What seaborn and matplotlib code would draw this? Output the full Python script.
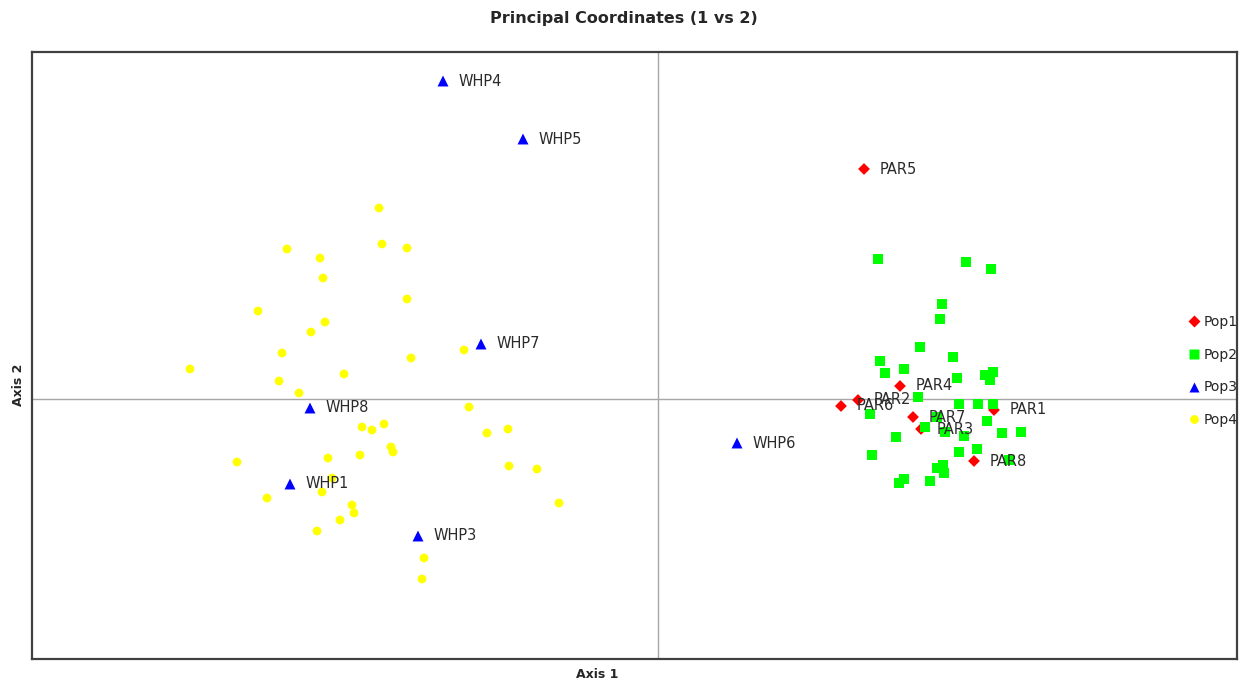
#!/usr/bin/env python3

import seaborn as sns
import pandas as pd
import matplotlib.pyplot as plt

# Pop1 (labelled PAR points)
pop1_names = ["PAR1", "PAR2", "PAR3", "PAR4", "PAR5", "PAR6", "PAR7", "PAR8"]
pop1_x = [3.36, 2.00, 2.63, 2.42, 2.06, 1.83, 2.55, 3.16]
pop1_y = [-0.11, -0.01, -0.30, 0.13, 2.30, -0.07, -0.18, -0.62]

# Pop2
pop2_x = [2.20, 3.08, 3.33, 2.84, 2.82, 2.62, 2.95, 2.22, 2.27, 2.46,
          2.99, 3.27, 3.35, 3.32, 2.60, 3.01, 3.20, 3.35, 2.12, 3.29,
          2.79, 2.67, 2.87, 3.06, 3.44, 3.63, 2.38, 2.14, 3.01, 3.19,
          3.51, 2.79, 2.85, 2.86, 2.46, 2.41, 2.72]
pop2_y = [1.40, 1.37, 1.30, 0.95, 0.80, 0.52, 0.42, 0.38, 0.26, 0.30,
          0.21, 0.24, 0.27, 0.19, 0.02, -0.05, -0.05, -0.05, -0.15, -0.22,
          -0.18, -0.28, -0.33, -0.37, -0.34, -0.33, -0.38, -0.56, -0.53, -0.50,
          -0.61, -0.69, -0.66, -0.74, -0.80, -0.84, -0.82]

# Pop3 (labelled WHP points)
pop3_names = ["WHP1", "WHP3", "WHP4", "WHP5", "WHP6", "WHP7", "WHP8"]
pop3_x = [-3.68, -2.40, -2.15, -1.35, 0.79, -1.77, -3.48]
pop3_y = [-0.85, -1.37, 3.18, 2.60, -0.44, 0.55, -0.09]

# Pop4
pop4_x = [-4.68, -4.21, -4.00, -3.91, -3.71, -3.79, -3.76, -3.59, -3.47, -3.38,
          -3.35, -3.33, -3.41, -3.30, -3.26, -3.36, -3.18, -3.14, -3.06, -3.04,
          -2.98, -2.96, -2.86, -2.79, -2.76, -2.74, -2.67, -2.65, -2.51, -2.51,
          -2.47, -2.36, -2.34, -1.94, -1.89, -1.71, -1.50, -1.49, -1.21, -0.99]
pop4_y = [0.30, -0.63, 0.88, -0.99, 1.50, 0.18, 0.46, 0.06, 0.67, 1.41,
          1.21, 0.77, -1.32, -0.59, -0.79, -0.93, -1.21, 0.25, -1.06, -1.14,
          -0.56, -0.28, -0.31, 1.91, 1.55, -0.25, -0.48, -0.53, 1.51, 1.00,
          0.41, -1.80, -1.59, 0.49, -0.08, -0.34, -0.30, -0.67, -0.70, -1.04]

pops = ["Pop1", "Pop2", "Pop3", "Pop4"]
colors = {"Pop1": "#ff0000", "Pop2": "#00ff00", "Pop3": "#0000ff", "Pop4": "#ffff00"}
markers = {"Pop1": "D", "Pop2": "s", "Pop3": "^", "Pop4": "o"}
msizes = {"Pop1": 36, "Pop2": 42, "Pop3": 62, "Pop4": 40}


def build_frame():
    parts = [
        pd.DataFrame({"x": pop1_x, "y": pop1_y, "pop": "Pop1", "name": pop1_names}),
        pd.DataFrame({"x": pop2_x, "y": pop2_y, "pop": "Pop2", "name": ""}),
        pd.DataFrame({"x": pop3_x, "y": pop3_y, "pop": "Pop3", "name": pop3_names}),
        pd.DataFrame({"x": pop4_x, "y": pop4_y, "pop": "Pop4", "name": ""}),
    ]
    return pd.concat(parts, ignore_index=True)


def main():
    sns.set_style("white")
    plt.rcParams["font.family"] = ["DejaVu Sans"]
    data = build_frame()

    fig = plt.figure(figsize=(12.53, 6.81), dpi=100)
    ax = fig.add_axes([32 / 1253, 22 / 681, 1205 / 1253, 607 / 681])

    ax.axhline(0, color="#a6a6a6", lw=1, zorder=0)
    ax.axvline(0, color="#a6a6a6", lw=1, zorder=0)

    sns.scatterplot(data=data, x="x", y="y", hue="pop", style="pop", size="pop",
                    hue_order=pops, style_order=pops, size_order=pops,
                    palette=colors, markers=markers, sizes=msizes,
                    edgecolor="none", ax=ax, zorder=3)

    for _, row in data[data["name"] != ""].iterrows():
        ax.annotate(row["name"], (row["x"], row["y"]), xytext=(11, 0),
                    textcoords="offset points", va="center", ha="left",
                    fontsize=10.5, color="#2b2b2b", zorder=4)

    ax.set_xlim(-6.26, 5.79)
    ax.set_ylim(-2.60, 3.47)
    ax.set_xticks([])
    ax.set_yticks([])
    ax.set_xlabel("Axis 1", fontsize=9, fontweight="bold")
    ax.set_ylabel("Axis 2", fontsize=9, fontweight="bold")
    ax.xaxis.set_label_coords(0.469, -0.015, transform=ax.transAxes)
    ax.xaxis.label.set_va("top")
    ax.yaxis.set_label_coords(-0.006, 0.451, transform=ax.transAxes)
    ax.yaxis.label.set_va("bottom")
    for sp in ax.spines.values():
        sp.set_color("#404040")
        sp.set_linewidth(1.6)

    fig.suptitle("Principal Coordinates (1 vs 2)", x=624 / 1253, y=1 - 18 / 681,
                 va="center", fontsize=11.5, fontweight="bold")

    handles, labels = ax.get_legend_handles_labels()
    ax.legend(handles, labels, loc="center left",
              bbox_to_anchor=(1181 / 1253, 1 - 371 / 681),
              bbox_transform=fig.transFigure, frameon=False, fontsize=10,
              handlelength=0.8, handletextpad=0.3, labelspacing=1.35,
              borderpad=0, markerscale=1.0)

    fig.savefig("out.png", dpi=100)
    plt.close(fig)


if __name__ == "__main__":
    main()
